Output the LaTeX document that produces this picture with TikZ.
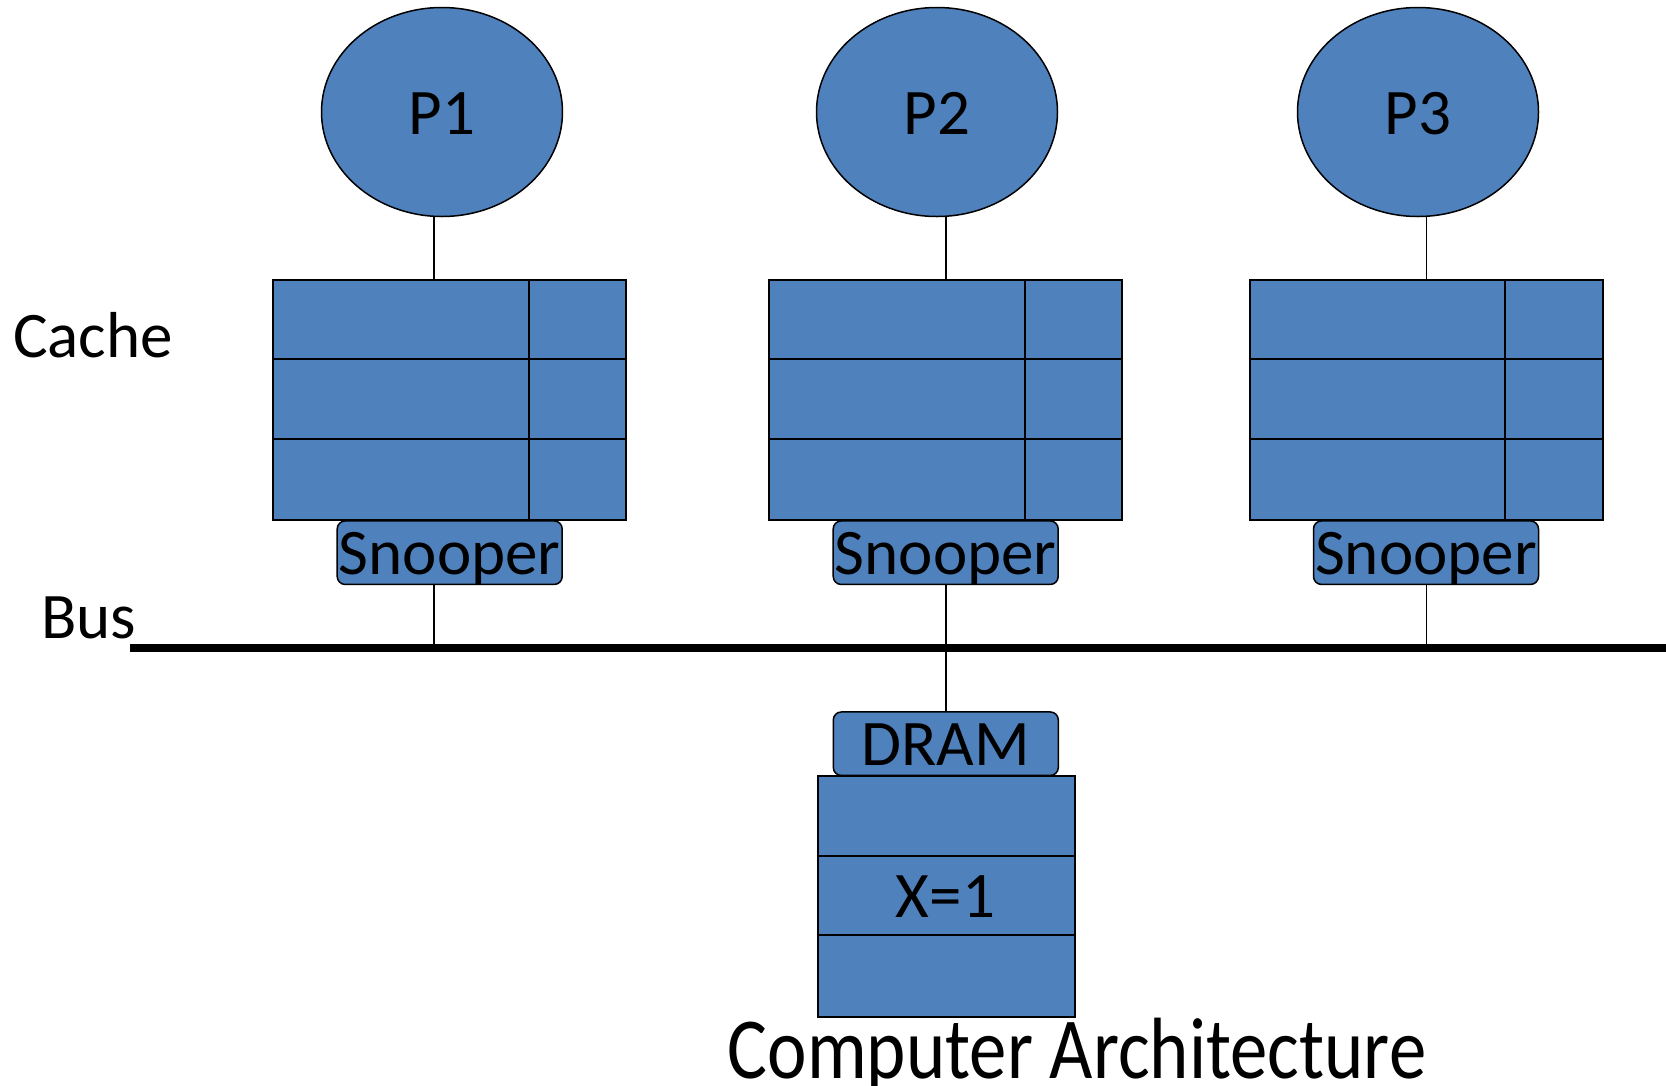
\documentclass[tikz,border=0pt]{standalone}
\usepackage{fontspec}
\setmainfont{Carlito}
\newfontfamily\captionfont[FakeStretch=0.86]{Carlito}
\usetikzlibrary{shapes.geometric,calc}
\definecolor{cellblue}{HTML}{4F81BD}

\begin{document}
\begin{tikzpicture}[x=1pt,y=-1pt,
  proc/.style={ellipse, draw=black, line width=1.5pt, fill=cellblue,
    minimum width=241pt, minimum height=209pt, inner sep=0pt},
  cachebox/.style={rectangle, draw=black, line width=2pt, fill=cellblue,
    minimum width=353pt, minimum height=240pt, inner sep=0pt},
  membox/.style={rectangle, draw=black, line width=2pt, fill=cellblue,
    minimum width=257pt, minimum height=241pt, inner sep=0pt},
  tagbox/.style={rectangle, rounded corners=8pt, draw=black, line width=1.5pt,
    fill=cellblue, minimum width=225pt, minimum height=63.5pt, inner sep=0pt},
  txt/.style={inner sep=0pt, font=\fontsize{65}{78}\selectfont},
  bigtxt/.style={inner sep=0pt, font=\captionfont\fontsize{87}{104}\selectfont},
  link/.style={draw=black, line width=1.4pt},
  rowline/.style={draw=black, line width=2pt},
  busline/.style={draw=black, line width=8.5pt}]

\useasboundingbox (0,0) rectangle (1666,1085);

% bus end points
\coordinate (busL) at (130,648);
\coordinate (busR) at (1666,648);

% processors, their caches and snoopers
\foreach \i/\px/\lx/\cx in {1/442/434/449.7, 2/937/945.8/945.7, 3/1418/1426.5/1426} {
  \node[proc] (p\i) at (\px,112) {};
  \node[txt, anchor=base] (pl\i) at (\px,134) {P\i};
  \node[cachebox] (c\i) at (\cx,400) {};
  \draw[rowline] ($(c\i.north west)+(0,80)$) -- ($(c\i.north east)+(0,80)$);
  \draw[rowline] ($(c\i.north west)+(0,160)$) -- ($(c\i.north east)+(0,160)$);
  \draw[rowline] ($(c\i.north west)+(256.5,0)$) -- ($(c\i.south west)+(256.5,0)$);
  \node[tagbox] (s\i) at (\cx,552.7) {};
  \node[txt, anchor=base] (sl\i) at (\cx,574.3) {Snooper};
  \coordinate (x\i) at (\lx,0);
  \draw[link] (p\i.south -| x\i) -- (c\i.north -| x\i);
  \draw[link] (s\i.south -| x\i) -- (busL -| x\i);
}

% main memory
\node[tagbox] (dram) at (945.8,743.7) {};
\node[txt, anchor=base] (dramlbl) at (945.8,765.7) {DRAM};
\node[membox] (mem) at (946,896.2) {};
\draw[rowline] ($(mem.north west)+(0,81)$) -- ($(mem.north east)+(0,81)$);
\draw[rowline] ($(mem.north west)+(0,160.3)$) -- ($(mem.north east)+(0,160.3)$);
\node[txt, anchor=base] (xval) at (945.5,917.7) {X=1};
\draw[link] (busL -| x2) -- (dram.north -| x2);

% the shared bus
\draw[busline] (busL) -- (busR);

% side labels and caption
\node[txt, anchor=base west] (cachelbl) at (13,357) {Cache};
\node[txt, anchor=base west] (buslbl) at (41,638) {Bus};
\node[bigtxt, anchor=base] (caption) at (1077,1078) {Computer Architecture};
\end{tikzpicture}
\end{document}
